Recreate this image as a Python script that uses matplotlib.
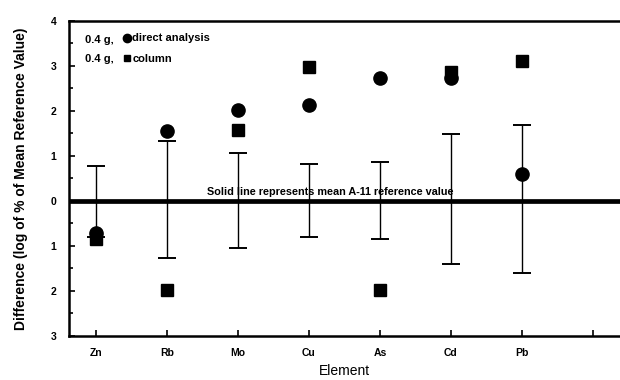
import matplotlib
matplotlib.use("Agg")
import matplotlib.pyplot as plt
from matplotlib.lines import Line2D

plt.rcParams['font.family'] = ['Liberation Sans', 'DejaVu Sans']

elements = ['Zn', 'Rb', 'Mo', 'Cu', 'As', 'Cd', 'Pb']
direct = [-0.72, 1.55, 2.02, 2.13, 2.73, 2.73, 0.60]
column = [-0.85, -1.98, 1.58, 2.98, -1.98, 2.87, 3.12]
bar_top = [0.78, 1.34, 1.06, 0.81, 0.86, 1.49, 1.68]
bar_bottom = [-0.80, -1.27, -1.05, -0.81, -0.85, -1.40, -1.60]
ytick_vals = [-3, -2, -1, 0, 1, 2, 3, 4]
ytick_labels = ['3', '2', '1', '0', '1', '2', '3', '4']

x = list(range(1, len(elements) + 1))

fig = plt.figure(figsize=(6.2, 3.8), dpi=100)
ax = fig.add_axes([0.111, 0.116, 0.889, 0.829])

# reference line and range bars
ax.axhline(0, color='black', lw=3.4, zorder=2)
ax.errorbar(x, [0] * len(x), yerr=[[-b for b in bar_bottom], bar_top],
            fmt='none', ecolor='black', elinewidth=1.0, capsize=6.5,
            capthick=1.4, zorder=3)

ax.plot(x, direct, 'o', color='black', ms=9.5, zorder=4)
ax.plot(x, column, 's', color='black', ms=8, zorder=5)

ax.text(4.3, 0.08, 'Solid line represents mean A-11 reference value',
        ha='center', va='bottom', fontsize=7.8, fontweight='bold')

# legend
handles = [Line2D([], [], marker='o', ls='none', color='black', ms=6),
           Line2D([], [], marker='s', ls='none', color='black', ms=4.5)]
ax.legend(handles, ['direct analysis', 'column'], loc='upper left',
          bbox_to_anchor=(0.085, 0.985), frameon=False,
          handlelength=0.6, handletextpad=0.2, labelspacing=0.95,
          borderpad=0.2, prop={'weight': 'bold', 'size': 8})
for yy in (0.94, 0.878):
    ax.text(0.03, yy, '0.4 g,', transform=ax.transAxes, fontsize=8,
            fontweight='bold', va='center')

ax.set_xlim(0.62, 8.38)
ax.set_ylim(-3, 4)
ax.set_xticks(x + [8])
ax.set_xticklabels(elements + [''], fontsize=7.5, fontweight='bold')
ax.set_yticks(ytick_vals)
ax.set_yticklabels(ytick_labels, fontsize=7.5, fontweight='bold')
ax.set_yticks([v + 0.5 for v in ytick_vals[:-1]], minor=True)
ax.tick_params(direction='in', length=4, width=1.2, pad=9)
ax.tick_params(axis='y', which='minor', direction='in', length=3, width=1.2)
ax.tick_params(axis='x', pad=9)

for s in ('left', 'top', 'bottom'):
    ax.spines[s].set_linewidth(1.8)
ax.spines['right'].set_visible(False)

ax.set_xlabel('Element', fontsize=10, labelpad=4)
ax.set_ylabel('Difference (log of % of Mean Reference Value)', fontsize=10,
              fontweight='bold', labelpad=16)

fig.savefig('out.png', dpi=100)
